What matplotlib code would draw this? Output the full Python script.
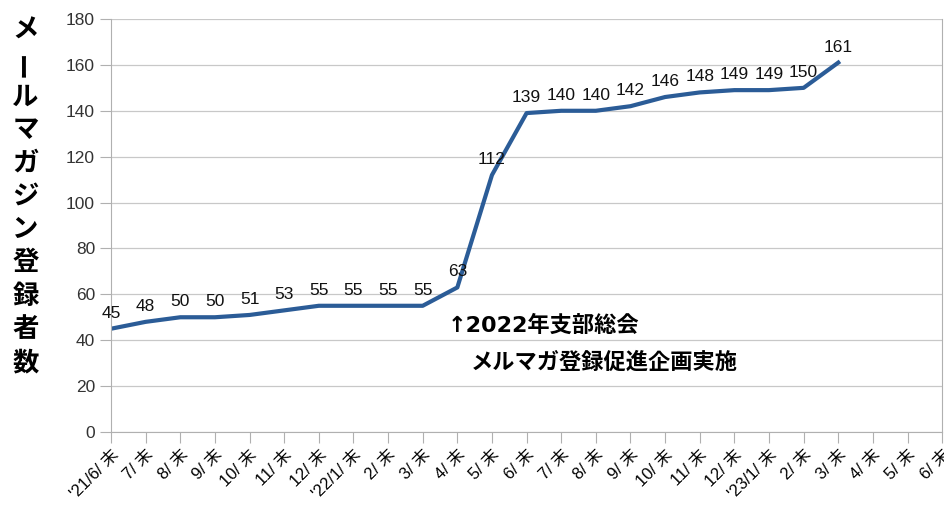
import matplotlib.pyplot as plt

plt.rcParams['font.family'] = ['Liberation Sans', 'Noto Sans CJK JP', 'DejaVu Sans']

months = ["'21/6/", "7/", "8/", "9/", "10/", "11/", "12/",
          "'22/1/", "2/", "3/", "4/", "5/", "6/", "7/", "8/", "9/", "10/", "11/", "12/",
          "'23/1/", "2/", "3/", "4/", "5/", "6/"]
tick_labels = [m + " 末" for m in months]
subscribers = [45, 48, 50, 50, 51, 53, 55, 55, 55, 55, 63, 112, 139, 140, 140,
               142, 146, 148, 149, 149, 150, 161]

y_label = "メールマガジン登録者数"
note_line1 = "↑2022年支部総会"
note_line2 = "メルマガ登録促進企画実施"

fig = plt.figure(figsize=(9.45, 5.07), dpi=100)
ax = fig.add_axes([0.1175, 0.148, 0.8795, 0.8145])

xs = list(range(len(subscribers)))
ax.plot(xs, subscribers, color="#2b5c97", linewidth=3, solid_joinstyle="round")
for x, v in zip(xs, subscribers):
    ax.text(x, v + 3.5, str(v), ha="center", va="bottom", fontsize=12.5, color="#111111")

ax.set_xlim(0, len(months) - 1)
ax.set_ylim(0, 180)
ax.set_yticks(range(0, 181, 20))
ax.set_xticks(range(len(months)))
ax.set_xticklabels(tick_labels, rotation=45, ha="right", va="top",
                   rotation_mode="anchor", fontsize=12)
ax.tick_params(axis="y", labelsize=12.5, labelcolor="#333333", length=8, color="#b0b0b0")
ax.tick_params(axis="x", length=8, color="#b0b0b0", pad=3)
ax.grid(axis="y", color="#c8c8c8", linewidth=0.9)
ax.set_axisbelow(True)
for side in ("left", "bottom", "right"):
    ax.spines[side].set_color("#b0b0b0")
ax.spines["top"].set_visible(False)

ax.text(9.72, 46.5, note_line1, fontsize=16, fontweight="bold", ha="left", va="center",
        family=["DejaVu Sans", "Noto Sans CJK JP"])
ax.text(10.4, 30.5, note_line2, fontsize=16, fontweight="bold", ha="left", va="center",
        family=["Noto Sans CJK JP"])

# vertical y-axis title, one character per line
ystart = 0.94
for i, ch in enumerate(y_label):
    fig.text(0.027, ystart - i * 0.0655, ch, fontsize=19, fontweight="bold",
             ha="center", va="center", rotation=90 if ch == "ー" else 0,
             family=["Noto Sans CJK JP"])

fig.savefig("out.png", dpi=100)
